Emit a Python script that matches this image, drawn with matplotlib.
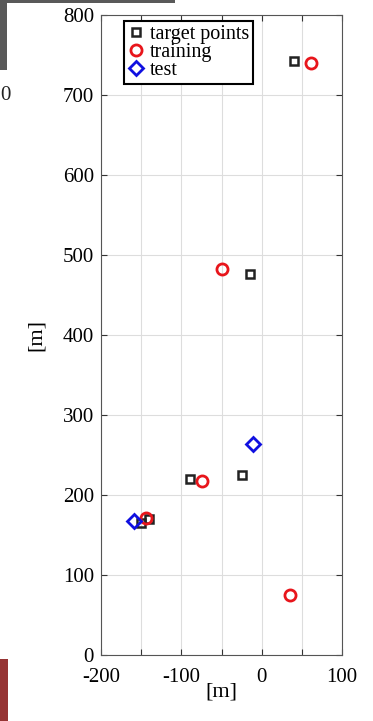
import matplotlib

matplotlib.use("Agg")
import matplotlib.pyplot as plt
from matplotlib.patches import Rectangle

plt.rcParams["font.family"] = ["Liberation Serif", "DejaVu Serif"]

# target points
target_x = [40, -15, -89, -24, -150, -140]
target_y = [742, 476, 220, 225, 165, 170]

# training points
train_x = [61, -49, -74, -144, 35]
train_y = [740, 482, 217, 171, 75]

# test points
test_x = [-11, -159]
test_y = [264, 167]

x_ticks = [-200, -150, -100, -50, 0, 50, 100]
x_labels = ["-200", "", "-100", "", "0", "", "100"]
y_ticks = [0, 100, 200, 300, 400, 500, 600, 700, 800]

W, H = 373, 721
fig = plt.figure(figsize=(W / 100, H / 100), dpi=100)

# leftover bits of a neighbouring figure at the left edge
fig.patches.append(Rectangle((0, 1 - 70 / H), 7 / W, 70 / H, transform=fig.transFigure,
                             facecolor="#595959", edgecolor="none"))
fig.patches.append(Rectangle((0, 1 - 3 / H), 175 / W, 3 / H, transform=fig.transFigure,
                             facecolor="#595959", edgecolor="none"))
fig.patches.append(Rectangle((0, 0), 8 / W, 62 / H, transform=fig.transFigure,
                             facecolor="#963434", edgecolor="none"))
fig.text(0, 1 - 95 / H, "0", fontsize=15, ha="left", va="center", color="#222222")

ax = fig.add_axes([101 / W, 1 - 655 / H, 241 / W, 640 / H])

ax.plot(target_x, target_y, "s", markersize=6, markerfacecolor="none",
        markeredgecolor="#222222", markeredgewidth=1.8, label="target points", zorder=3)
ax.plot(train_x, train_y, "o", markersize=8, markerfacecolor="none",
        markeredgecolor="#e8151b", markeredgewidth=2.0, label="training", zorder=3)
ax.plot(test_x, test_y, "D", markersize=7, markerfacecolor="none",
        markeredgecolor="#1010e0", markeredgewidth=2.0, label="test", zorder=3)

ax.set_xlim(-200, 100)
ax.set_ylim(0, 800)
ax.set_xticks(x_ticks)
ax.set_xticklabels(x_labels)
ax.set_yticks(y_ticks)
ax.tick_params(direction="in", length=4, width=0.8, labelsize=15, color="#333333",
               top=True, right=True)
ax.tick_params(axis="x", pad=9)
ax.tick_params(axis="y", pad=5)
ax.grid(True, color="#dddddd", linewidth=0.8)
ax.set_axisbelow(True)
for sp in ax.spines.values():
    sp.set_color("#555555")
    sp.set_linewidth(0.8)

ax.set_xlabel("[m]", fontsize=16, labelpad=-3)
ax.set_ylabel("[m]", fontsize=16, labelpad=12)

leg = ax.legend(loc="upper left", bbox_to_anchor=(23 / 241, 634 / 640), borderaxespad=0,
                fontsize=14.5, handlelength=0.8, handletextpad=0.3, borderpad=0.2,
                labelspacing=-0.05, fancybox=False, framealpha=1)
leg.get_frame().set_edgecolor("black")
leg.get_frame().set_linewidth(1.5)

fig.savefig("out.png", dpi=100)
